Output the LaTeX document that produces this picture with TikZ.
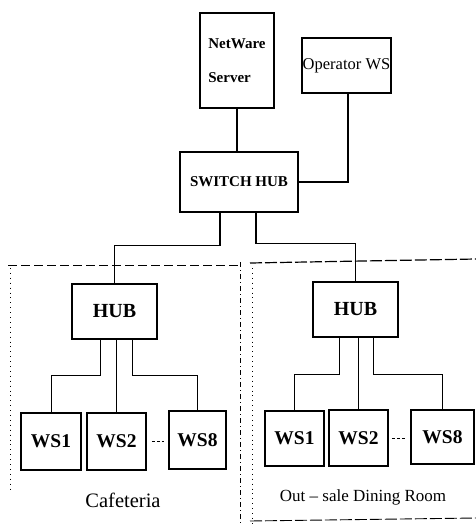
\documentclass[tikz,border=0pt]{standalone}
\usepackage{fontspec}
\setmainfont{Liberation Serif}
\usetikzlibrary{positioning}

\begin{document}
\begin{tikzpicture}[
    x=1pt, y=-1pt,
    box/.style={draw, line width=1.6pt, inner sep=0pt, align=center},
    hubbox/.style={box, minimum width=85pt, minimum height=55pt, font=\fontsize{20}{22}\selectfont\bfseries},
    wsbox/.style={box, minimum width=59pt, minimum height=56pt, font=\fontsize{19.5}{22}\selectfont\bfseries},
    trunk/.style={line width=1.4pt},
    branch/.style={line width=1pt},
    area/.style={line width=0.9pt},
    roomlabel/.style={font=\fontsize{20.5}{23}\selectfont}
]
\useasboundingbox (0,0) rectangle (476,525);

% top part
\node[box, minimum width=74pt, minimum height=95pt, align=left,
      font=\fontsize{15}{34}\selectfont\bfseries] (server) at (237,60.5) {NetWare\\Server};
\node[box, minimum width=89pt, minimum height=55pt,
      font=\fontsize{16.5}{19}\selectfont] (oper) at (346.5,65.5) {Operator WS};
\node[box, minimum width=118pt, minimum height=60pt,
      font=\fontsize{15}{18}\selectfont\bfseries] (switch) at (239,182) {SWITCH HUB};

% Cafeteria
\node[hubbox] (hubL) at (114.5,311.5) {HUB};
\node[wsbox, minimum width=60pt, minimum height=57pt] (ws1L) at (51,441.5) {WS1};
\node[wsbox, minimum height=57pt] (ws2L) at (116.5,441.5) {WS2};
\node[wsbox, minimum width=57pt, minimum height=58pt] (ws8L) at (197.5,440) {WS8};
\node[roomlabel] (cafe) at (123,500) {Cafeteria};

% Out-sale dining room
\node[hubbox] (hubR) at (355.5,309.5) {HUB};
\node[wsbox, minimum height=55pt] (ws1R) at (294.5,438.5) {WS1};
\node[wsbox] (ws2R) at (358.5,438) {WS2};
\node[wsbox, minimum width=63pt, minimum height=54pt] (ws8R) at (442.5,437) {WS8};
\node[roomlabel, font=\fontsize{17}{19}\selectfont] (dining) at (363,497) {Out -- sale Dining Room};

% room borders
\draw[area, dash pattern=on 9pt off 4pt] (8,265) -- (240,265);
\draw[area, loosely dotted] (10,268) -- (10,492);
\draw[area, dash pattern=on 5pt off 3pt on 1pt off 3pt] (240,262) -- (240,525);
\draw[area, dash pattern=on 12pt off 3pt, line width=1.2pt] (250,263) -- (476,259);
\draw[area, loosely dotted] (252,268) -- (252,525);
\draw[area, dash pattern=on 12pt off 3pt] (250,521) -- (476,518);

% links
\draw[trunk] (server.south) -- (server.south |- switch.north);
\draw[trunk] (oper.south -| 348,0) |- (switch.east);
\draw[trunk] ([xshift=-19pt]switch.south) |- ([yshift=38pt]hubL.north) -- (hubL.north);
\draw[trunk] ([xshift=17pt]switch.south) |- ([yshift=38pt]hubR.north) -- (hubR.north);

\draw[branch] ([xshift=-14.5pt]hubL.south) |- ([yshift=37pt]ws1L.north) -- (ws1L.north);
\draw[branch] (ws2L.north |- hubL.south) -- (ws2L.north);
\draw[branch] ([xshift=17.5pt]hubL.south) |- ([yshift=35pt]ws8L.north) -- (ws8L.north);
\draw[branch, densely dashed, shorten <=5pt, shorten >=4pt] (ws2L.east) -- (ws8L.west |- ws2L.east);

\draw[branch] ([xshift=-16.5pt]hubR.south) |- ([yshift=36pt]ws1R.north) -- (ws1R.north);
\draw[branch] (ws2R.north |- hubR.south) -- (ws2R.north);
\draw[branch] ([xshift=17.5pt]hubR.south) |- ([yshift=35pt]ws8R.north) -- (ws8R.north);
\draw[branch, densely dashed, shorten <=3pt, shorten >=4pt] (ws2R.east) -- (ws8R.west |- ws2R.east);
\end{tikzpicture}
\end{document}
